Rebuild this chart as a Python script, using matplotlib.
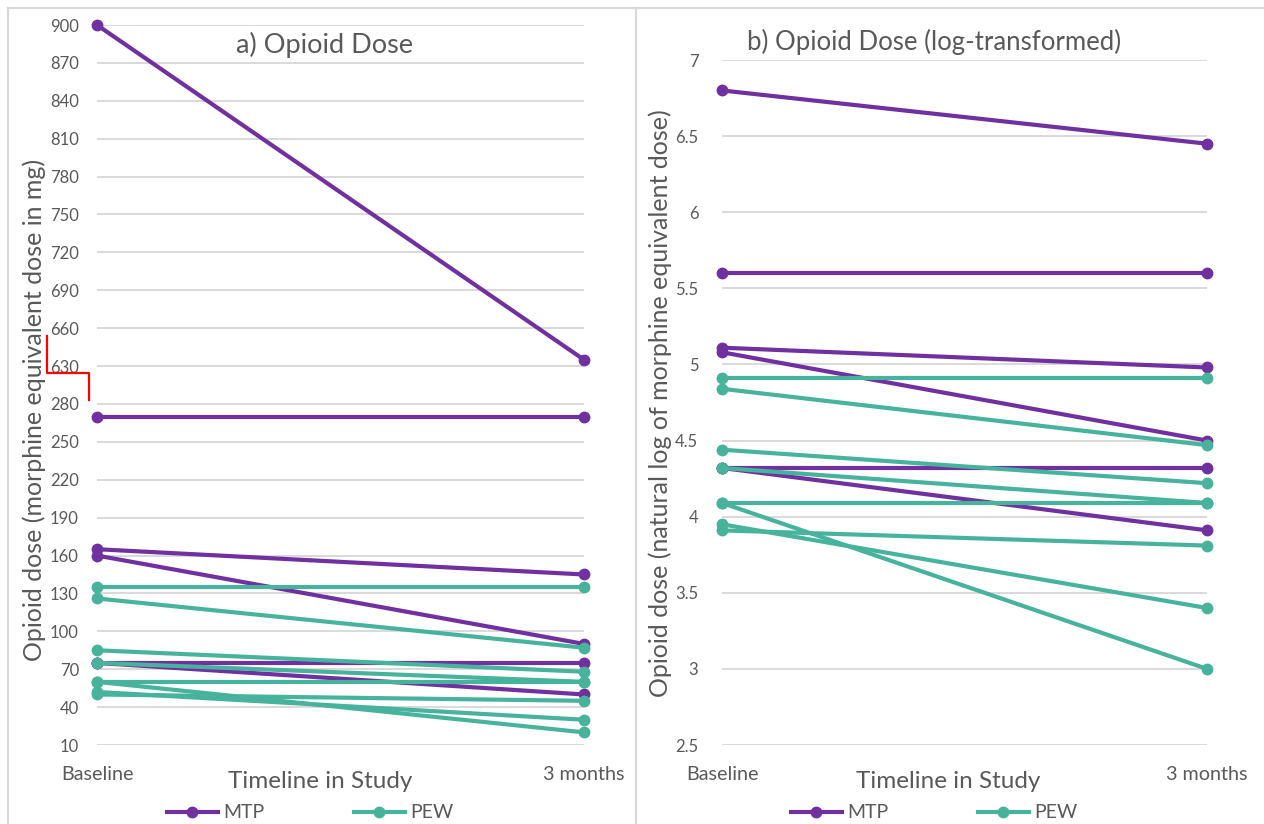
import matplotlib.pyplot as plt
from matplotlib.lines import Line2D

plt.rcParams['font.family'] = ['Lato', 'DejaVu Sans']

W, H = 1264, 824
TEXT = '#595959'
GRID = '#D9D9D9'
PURPLE = '#7030A0'
TEAL = '#47B39C'

timepoints = ["Baseline", "3 months"]

# morphine equivalent dose (mg), one baseline / 3-month pair per participant
mtp_baseline = [900, 270, 165, 160, 75, 75]
mtp_3months = [635, 270, 145, 90, 75, 50]
pew_baseline = [135, 126, 85, 75, 60, 60, 52, 50]
pew_3months = [135, 87, 68, 60, 60, 20, 30, 45]

# natural log of the same doses
mtp_log_baseline = [6.80, 5.60, 5.11, 5.08, 4.32, 4.32]
mtp_log_3months = [6.45, 5.60, 4.98, 4.50, 4.32, 3.91]
pew_log_baseline = [4.91, 4.84, 4.44, 4.32, 4.09, 4.09, 3.95, 3.91]
pew_log_3months = [4.91, 4.47, 4.22, 4.09, 4.09, 3.00, 3.40, 3.81]

# broken axis on the raw-dose panel: 280 -> 630 gap is squeezed out
lower_ticks = [10, 40, 70, 100, 130, 160, 190, 220, 250, 280]
upper_ticks = [630, 660, 690, 720, 750, 780, 810, 840, 870, 900]
GAP = upper_ticks[0] - (lower_ticks[-1] + 30)

log_ticks = [2.5, 3, 3.5, 4, 4.5, 5, 5.5, 6, 6.5, 7]


def squeeze(v):
    return v - GAP if v > lower_ticks[-1] + 15 else v


def px_box(x0, x1, ytop, ybot):
    return [x0 / W, 1 - ybot / H, (x1 - x0) / W, (ybot - ytop) / H]


def px_text(fig, x, y, s, size, **kw):
    fig.text(x / W, 1 - y / H, s, ha='center', va='center', fontsize=size,
             color=TEXT, **kw)


def fig_line(fig, xs, ys, color, lw):
    fig.add_artist(Line2D([x / W for x in xs], [1 - y / H for y in ys],
                          transform=fig.transFigure, color=color, lw=lw))


def draw_pairs(ax, base, after, color, tf=lambda v: v):
    for b, a in zip(base, after):
        ax.plot([0, 1], [tf(b), tf(a)], color=color, lw=3, marker='o',
                ms=7.5, clip_on=False, solid_capstyle='round')


def style(ax, ticks, labels, ylim, pad):
    ax.set_xlim(0, 1)
    ax.set_ylim(*ylim)
    ax.set_yticks(ticks)
    ax.set_yticklabels(labels)
    ax.set_xticks([0, 1])
    ax.set_xticklabels(timepoints)
    for s in ax.spines.values():
        s.set_visible(False)
    ax.tick_params(axis='y', length=0, pad=pad, labelsize=12, labelcolor=TEXT)
    ax.tick_params(axis='x', length=0, pad=15, labelsize=14.2, labelcolor=TEXT)
    ax.grid(axis='y', color=GRID, lw=1.4)
    ax.set_axisbelow(True)


fig = plt.figure(figsize=(W / 100, H / 100), dpi=100)

# panel frames
fig_line(fig, [8, W], [8, 8], GRID, 1.6)
fig_line(fig, [8, 8], [8, H], GRID, 1.6)
fig_line(fig, [636, 636], [8, H], GRID, 1.6)

# a) raw dose
ax1 = fig.add_axes(px_box(97, 584, 25, 745))
draw_pairs(ax1, mtp_baseline, mtp_3months, PURPLE, squeeze)
draw_pairs(ax1, pew_baseline, pew_3months, TEAL, squeeze)
all_ticks = lower_ticks + upper_ticks
style(ax1, [squeeze(t) for t in all_ticks], [str(t) for t in all_ticks],
      (lower_ticks[0], squeeze(upper_ticks[-1])), 13)
px_text(fig, 34, 410, 'Opioid dose (morphine equivalent dose in mg)', 18,
        rotation=90)
px_text(fig, 324, 45, 'a) Opioid Dose', 19.5)
px_text(fig, 320, 781, 'Timeline in Study', 17.5)

# axis-break marker
fig_line(fig, [47, 47, 89, 89], [336, 373, 373, 400], 'red', 1.6)

# b) log dose
ax2 = fig.add_axes(px_box(722, 1207, 60, 745))
draw_pairs(ax2, mtp_log_baseline, mtp_log_3months, PURPLE)
draw_pairs(ax2, pew_log_baseline, pew_log_3months, TEAL)
style(ax2, log_ticks, [f'{t:g}' for t in log_ticks], (2.5, 7), 17)
px_text(fig, 660, 403, 'Opioid dose (natural log of morphine equivalent dose)', 18,
        rotation=90)
px_text(fig, 934, 42, 'b) Opioid Dose (log-transformed)', 18.5)
px_text(fig, 948, 781, 'Timeline in Study', 17.5)

# legends under each panel
handles = [Line2D([], [], color=PURPLE, lw=3, marker='o', ms=7.5, label='MTP'),
           Line2D([], [], color=TEAL, lw=3, marker='o', ms=7.5, label='PEW')]
for cx in (310, 934):
    fig.legend(handles=handles, loc='center', bbox_to_anchor=(cx / W, 1 - 813 / H),
               ncol=2, frameon=False, fontsize=14, labelcolor=TEXT,
               handlelength=2.65, handletextpad=0.25, columnspacing=4.6,
               borderpad=0, borderaxespad=0)

fig.savefig('out.png', dpi=100)
